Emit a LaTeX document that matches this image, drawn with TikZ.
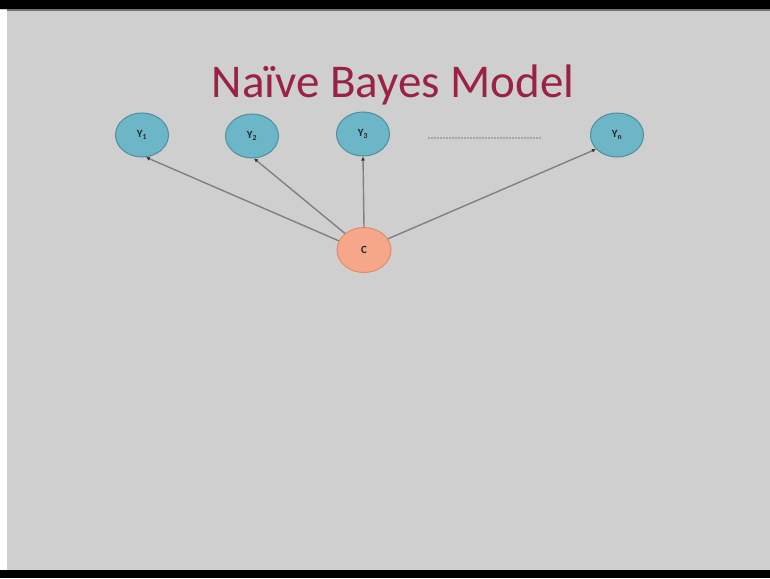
\documentclass[tikz,border=0pt]{standalone}
\usepackage{fontspec}
\setmainfont{Carlito}
\usetikzlibrary{shapes.geometric,arrows.meta}
\definecolor{bg}{HTML}{CFCFCF}
\definecolor{titlered}{HTML}{9A2242}
\definecolor{yfill}{HTML}{6DB6C8}
\definecolor{ydraw}{HTML}{4E8E9E}
\definecolor{cfill}{HTML}{F6A78A}
\definecolor{cdraw}{HTML}{DD8C70}
\definecolor{edgegray}{HTML}{808080}
\begin{document}
\begin{tikzpicture}[x=1pt,y=-1pt,
  ynode/.style={ellipse,draw=ydraw,fill=yfill,line width=1pt,minimum width=53pt,minimum height=44pt,inner sep=0pt,font=\bfseries\fontsize{11}{11}\selectfont,text=black!85},
  cnode/.style={ellipse,draw=cdraw,fill=cfill,line width=1pt,minimum width=54pt,minimum height=45pt,inner sep=0pt,font=\bfseries\fontsize{11}{11}\selectfont,text=black!85},
  edge/.style={draw=edgegray,line width=1.4pt,-{Latex[length=4pt,width=4pt,color=black!80]}}
]
\useasboundingbox (0,0) rectangle (770,578);
\fill[bg] (0,0) rectangle (770,578);
\fill[white] (0,10) rectangle (7,570);
\fill[black] (0,0) rectangle (770,9);
\fill[black!55] (7,9) rectangle (770,11);
\fill[black] (0,570) rectangle (770,578);
\node[anchor=base,text=titlered,font=\fontsize{47}{47}\selectfont,inner sep=0pt] (title) at (393,97) {Naïve Bayes Model};
\node[ynode] (y1) at (142,135) {Y\textsubscript{1}};
\node[ynode] (y2) at (252,136) {Y\textsubscript{2}};
\node[ynode] (y3) at (363,134) {Y\textsubscript{3}};
\node[ynode] (yn) at (617,135) {Y\textsubscript{n}};
\node[cnode] (c) at (364,250) {C};
\coordinate (d1) at (428,138);
\coordinate (d2) at (542,138);
\draw[black!35,line width=2pt,dash pattern=on 2pt off 1pt] (d1) -- (d2);
\draw[edge] (c.160) -- (y1.-80);
\draw[edge] (c.139) -- (y2.-85);
\draw[edge] (c.north) -- (y3.south);
\draw[edge] (c.25) -- (yn.-146);
\end{tikzpicture}
\end{document}
